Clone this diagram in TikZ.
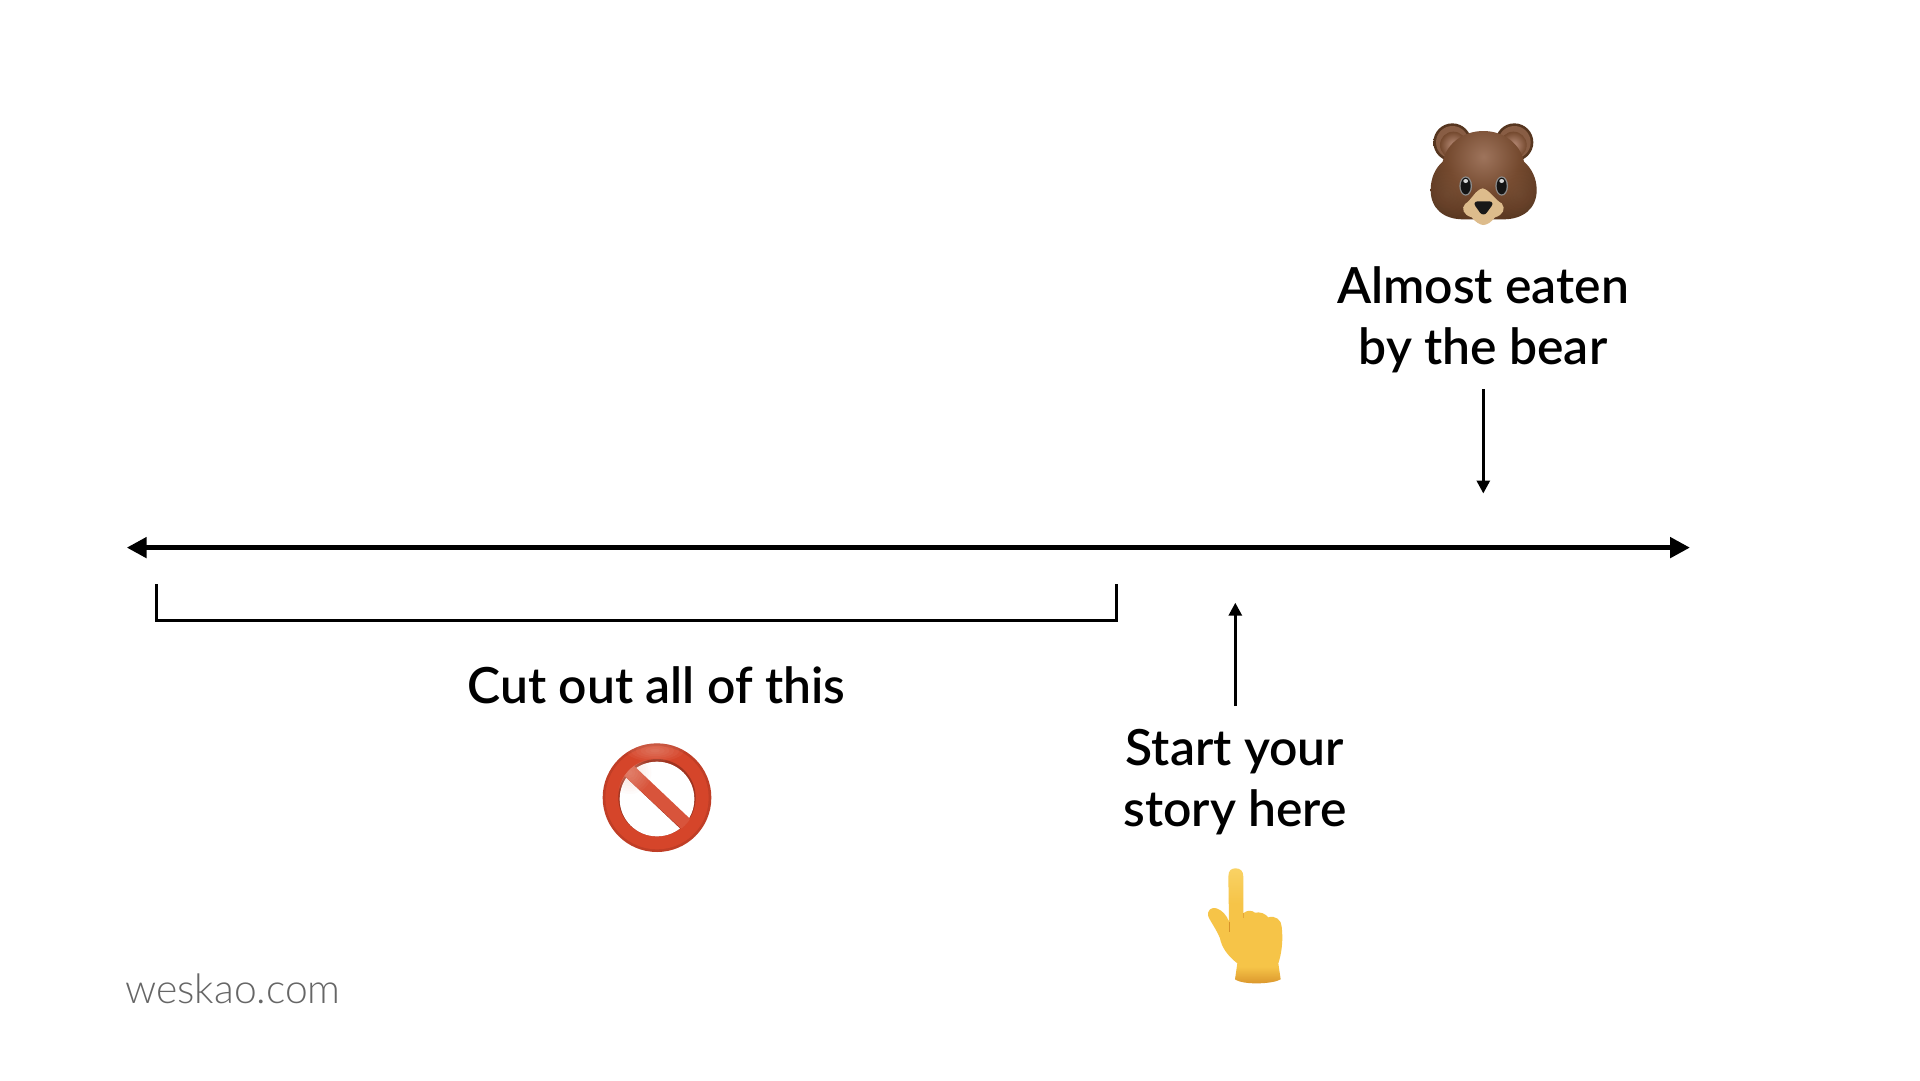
\documentclass[tikz,border=0pt]{standalone}
\usepackage{fontspec}
\setmainfont{Lato Semibold}
\newfontfamily\lightf{Lato Light}
\usetikzlibrary{arrows.meta}
\definecolor{bearedge}{HTML}{54341E}
\definecolor{bearmid}{HTML}{74492E}
\definecolor{beartop}{HTML}{9E745C}
\definecolor{earpink}{HTML}{B88C78}
\definecolor{muzzle}{HTML}{DDBC8C}
\definecolor{ringred}{HTML}{D5452A}
\definecolor{ringdark}{HTML}{A03420}
\definecolor{ringlight}{HTML}{F4C4B4}
\definecolor{fingerlt}{HTML}{F9D264}
\definecolor{fingermid}{HTML}{F6C448}
\definecolor{fingerdk}{HTML}{D8922A}
\pgfdeclareradialshading{bearhead}{\pgfpoint{0bp}{0bp}}{color(0bp)=(beartop); color(11bp)=(bearmid); color(22bp)=(bearedge); color(50bp)=(bearedge)}
\pgfdeclareverticalshading{fingershade}{100bp}{color(0bp)=(fingerdk); color(25bp)=(fingerdk); color(33bp)=(fingermid); color(60bp)=(fingermid); color(75bp)=(fingerlt); color(100bp)=(fingerlt)}
\tikzset{
  mainline/.style={line width=5.5pt,{Triangle[length=20pt,width=20pt]}-{Triangle[length=20pt,width=20pt]}},
  thinarrow/.style={line width=3pt,-{Triangle[length=13pt,width=13pt]}},
  bracketline/.style={line width=3pt,line join=miter},
  label/.style={font=\fontsize{49.8}{61.5}\selectfont,align=center,inner sep=0pt,text=black},
  brand/.style={font=\lightf\fontsize{40.8}{46}\selectfont,inner sep=0pt,text=black!60},
  emoji/.style={shift={(#1)},scale=1/3}
}
\begin{document}
\begin{tikzpicture}[x=1pt,y=-1pt]
\fill[white] (0,0) rectangle (1920,1080);
\useasboundingbox (0,0) rectangle (1920,1080);

% connector ends
\coordinate (lineL) at (126.7,547.6);
\coordinate (lineR) at (1690,547.6);
\coordinate (brTL) at (156,584);
\coordinate (brBL) at (156,620.5);
\coordinate (brBR) at (1116.5,620.5);
\coordinate (brTR) at (1116.5,584);
\coordinate (upS) at (1235.3,706);
\coordinate (upE) at (1235.3,602.7);
\coordinate (dnS) at (1483.3,389);
\coordinate (dnE) at (1483.3,493.5);

\draw[mainline] (lineL) -- (lineR);
\draw[bracketline] (brTL) -- (brBL) -- (brBR) -- (brTR);
\draw[thinarrow] (upS) -- (upE);
\draw[thinarrow] (dnS) -- (dnE);

% labels
\node[label] (bearlabel) at (1483,320) {Almost eaten\\by the bear};
\node[label] (cutlabel) at (656.5,685) {Cut out all of this};
\node[label] (startlabel) at (1235,782) {Start your\\story here};
\node[brand,anchor=base west] (site) at (125,1003.5) {weskao.com};

% bear
\begin{scope}[emoji={1400,100}]
  \foreach \ex/\ix in {157/160,343/340}{
    \shade[inner color=bearmid!85!beartop,outer color=bearedge] (\ex,127) circle (57);
    \fill[bearmid!70!earpink] (\ex,127) circle (49);
    \shade[inner color=earpink,outer color=bearmid] (\ix,135) circle (40);
  }
  \begin{scope}
    \clip (250,93) .. controls (190,93) and (140,130) .. (128,185)
      .. controls (105,205) and (92,235) .. (92,270)
      .. controls (92,325) and (130,358) .. (190,358) -- (310,358)
      .. controls (370,358) and (410,325) .. (410,270)
      .. controls (410,235) and (395,205) .. (372,185)
      .. controls (360,130) and (310,93) .. (250,93) -- cycle;
    \shade[shading=bearhead] (250,170) circle (250);
    \foreach \r in {10,20,...,70}{
      \fill[beartop,opacity=0.035] (140,285) circle (\r);
      \fill[beartop,opacity=0.035] (360,285) circle (\r);
    }
  \end{scope}
  \fill[muzzle] (248,265) .. controls (225,270) and (215,300) .. (195,312)
      .. controls (183,325) and (190,345) .. (215,352)
      .. controls (225,365) and (240,375) .. (250,375)
      .. controls (262,375) and (275,365) .. (285,352)
      .. controls (310,345) and (318,325) .. (305,310)
      .. controls (285,300) and (270,270) .. (248,265) -- cycle;
  \fill[black!90,rounded corners=6pt] (216,304) -- (285,304) -- (250,352) -- cycle;
  \foreach \ex in {197,305}{
    \fill[black!45] (\ex,258) ellipse (19 and 29);
    \fill[black!92] (\ex,258) ellipse (15 and 25);
    \fill[white!85!black] (\ex,243) ellipse (7 and 6);
  }
\end{scope}

% prohibited sign
\begin{scope}[emoji={580,730}]
  \fill[ringred!90!black] (231,203) circle (163);
  \fill[ringred] (231,203) circle (155);
  \begin{scope}
    \clip (231,203) circle (116);
    \fill[ringdark] (100,80) rectangle (360,330);
  \end{scope}
  \begin{scope}
    \clip (231,207) circle (112);
    \fill[white] (100,60) -- (155,105) -- (345,285) -- (345,60) -- cycle;
    \fill[white] (100,110) -- (130,135) -- (315,310) -- (100,340) -- cycle;
  \end{scope}
  \begin{scope}
    \clip (231,203) circle (118);
    \fill[ringred!92!white] (152,98) -- (336,272) -- (308,300) -- (126,131) -- cycle;
    \foreach \r in {8,16,...,64}{
      \fill[ringlight,opacity=0.06] (150,128) circle (\r);
    }
  \end{scope}
  \begin{scope}
    \clip (231,203) circle (163);
    \foreach \r in {6,12,...,36}{
      \fill[ringlight,opacity=0.07] (225,62) ellipse (2.4*\r pt and 0.9*\r pt);
    }
  \end{scope}
\end{scope}

% pointing finger
\begin{scope}[emoji={1180,860}]
  \shade[shading=fingershade]
    (145,50) .. controls (145,30) and (155,25) .. (167,25)
    .. controls (180,25) and (190,32) .. (190,50) -- (190,160)
    .. controls (200,150) and (215,150) .. (225,158)
    .. controls (240,155) and (255,160) .. (265,172)
    .. controls (285,165) and (305,180) .. (305,200)
    .. controls (310,240) and (305,280) .. (295,310)
    -- (302,358) .. controls (280,372) and (190,376) .. (165,358)
    -- (172,310) .. controls (140,285) and (125,260) .. (120,235)
    .. controls (110,210) and (95,190) .. (85,170)
    .. controls (80,150) and (95,140) .. (110,145)
    .. controls (125,150) and (140,165) .. (147,185) -- cycle;
  \draw[fingerdk,line width=1pt] (147,185) -- (147,215);
  \draw[fingerdk!60!fingermid,line width=0.8pt] (190,160) -- (190,175);
\end{scope}
\end{tikzpicture}
\end{document}
